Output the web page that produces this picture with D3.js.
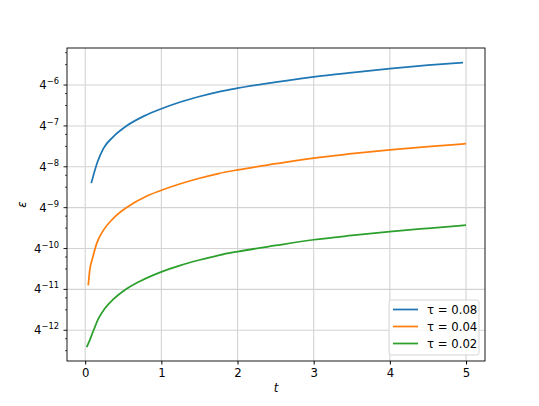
<!DOCTYPE html>
<html>
<head>
<meta charset="utf-8">
<script src="https://cdn.jsdelivr.net/npm/d3@7"></script>
<style>
  body { margin: 0; background: #fff; }
  svg { font-family: "DejaVu Sans", sans-serif; }
</style>
</head>
<body>
<div id="chart"></div>
<script>
var width = 539,
    height = 406;

var margin = {left: 67, top: 48, right: 54, bottom: 45};

// values, epsilon given as exponent of base 4
var tBlue   = [0.08, 0.16, 0.24, 0.37, 0.55, 0.77, 1.0, 1.25, 1.5, 1.75, 2.0, 2.5, 3.0, 3.5, 4.0, 4.5, 4.96];
var eBlue   = [-8.40, -7.89, -7.55, -7.26, -6.99, -6.76, -6.58, -6.415, -6.28, -6.165, -6.075, -5.93, -5.80, -5.695, -5.598, -5.515, -5.45];
var tOrange = [0.04, 0.06, 0.10, 0.15, 0.24, 0.37, 0.55, 0.81, 1.0, 1.25, 1.5, 1.75, 2.0, 2.5, 3.0, 3.5, 4.0, 4.5, 5.0];
var eOrange = [-10.90, -10.53, -10.21, -9.88, -9.55, -9.26, -8.99, -8.715, -8.575, -8.415, -8.28, -8.165, -8.075, -7.925, -7.785, -7.68, -7.585, -7.505, -7.434];
var tGreen  = [0.02, 0.06, 0.11, 0.175, 0.26, 0.37, 0.525, 0.72, 1.0, 1.25, 1.5, 1.75, 2.0, 2.5, 3.0, 3.5, 4.0, 4.5, 5.0];
var eGreen  = [-12.41, -12.24, -12.00, -11.71, -11.46, -11.24, -11.01, -10.80, -10.57, -10.41, -10.28, -10.165, -10.075, -9.925, -9.785, -9.68, -9.585, -9.505, -9.43];

var seriesNames  = ["τ = 0.08", "τ = 0.04", "τ = 0.02"];
var seriesColors = ["#1f77b4", "#ff7f0e", "#2ca02c"];
var xTicks = [0, 1, 2, 3, 4, 5];
var yTickExps = [-12, -11, -10, -9, -8, -7, -6];

var series = [
  {t: tBlue, e: eBlue},
  {t: tOrange, e: eOrange},
  {t: tGreen, e: eGreen}
];

var svg = d3.select("#chart").append("svg")
  .attr("width", width)
  .attr("height", height);

var x = d3.scaleLinear()
  .domain([-0.239, 5.249])
  .range([margin.left, width - margin.right]);

var y = d3.scaleLog().base(4)
  .domain([Math.pow(4, -12.752), Math.pow(4, -5.093)])
  .range([height - margin.bottom, margin.top]);

// grid
var grid = svg.append("g").attr("class", "grid");
grid.selectAll(".gx").data(xTicks).enter().append("line")
  .attr("x1", d => x(d)).attr("x2", d => x(d))
  .attr("y1", margin.top).attr("y2", height - margin.bottom)
  .attr("stroke", "#d3d3d3").attr("stroke-width", 1.1);
grid.selectAll(".gy").data(yTickExps).enter().append("line")
  .attr("x1", margin.left).attr("x2", width - margin.right)
  .attr("y1", d => y(Math.pow(4, d))).attr("y2", d => y(Math.pow(4, d)))
  .attr("stroke", "#d3d3d3").attr("stroke-width", 1.1);

// lines
var line = d3.line()
  .x(d => x(d[0]))
  .y(d => y(Math.pow(4, d[1])))
  .curve(d3.curveMonotoneX);

series.forEach(function(s, i) {
  svg.append("path")
    .datum(s.t.map((t, j) => [t, s.e[j]]))
    .attr("d", line)
    .attr("fill", "none")
    .attr("stroke", seriesColors[i])
    .attr("stroke-width", 1.75);
});

// axes
var xAxis = d3.axisBottom(x).tickValues(xTicks).tickSize(3.5).tickPadding(4).tickFormat(d3.format("d"));
var gx = svg.append("g")
  .attr("transform", "translate(0," + (height - margin.bottom) + ")")
  .call(xAxis);
gx.select(".domain").remove();
gx.selectAll("text").attr("font-size", 11.7).attr("fill", "#000").attr("font-family", "DejaVu Sans");

// y ticks: majors and minors (2,3 x 4^k)
var minorVals = [];
for (var k = -13; k <= -6; k++) {
  [2, 3].forEach(function(m) {
    var v = m * Math.pow(4, k);
    if (v > y.domain()[0] && v < y.domain()[1]) minorVals.push(v);
  });
}
var gy = svg.append("g").attr("transform", "translate(" + margin.left + ",0)");
gy.selectAll(".minor").data(minorVals).enter().append("line")
  .attr("x1", -2).attr("x2", 0)
  .attr("y1", d => y(d)).attr("y2", d => y(d))
  .attr("stroke", "#000").attr("stroke-width", 0.7);
gy.selectAll(".major").data(yTickExps).enter().append("line")
  .attr("x1", -3.5).attr("x2", 0)
  .attr("y1", d => y(Math.pow(4, d))).attr("y2", d => y(Math.pow(4, d)))
  .attr("stroke", "#000").attr("stroke-width", 0.9);
var lbl = gy.selectAll(".lbl").data(yTickExps).enter().append("text")
  .attr("x", -8)
  .attr("y", d => y(Math.pow(4, d)) + 4)
  .attr("text-anchor", "end")
  .attr("font-size", 11.7);
lbl.append("tspan").text("4");
lbl.append("tspan").attr("dy", -5).attr("font-size", 8.3).text(d => "\u2212" + Math.abs(d));

// frame
svg.append("rect")
  .attr("x", margin.left).attr("y", margin.top)
  .attr("width", width - margin.left - margin.right)
  .attr("height", height - margin.top - margin.bottom)
  .attr("fill", "none").attr("stroke", "#000").attr("stroke-width", 0.9);

// axis labels
svg.append("text")
  .attr("x", (margin.left + width - margin.right) / 2)
  .attr("y", 392)
  .attr("text-anchor", "middle")
  .attr("font-size", 11.7).attr("font-style", "italic")
  .text("t");
svg.append("text")
  .attr("transform", "translate(26," + ((margin.top + height - margin.bottom) / 2) + ")rotate(-90)")
  .attr("text-anchor", "middle")
  .attr("font-size", 11.7).attr("font-style", "italic")
  .text("ε");

// legend
var legend = svg.append("g").attr("transform", "translate(389,300)");
legend.append("rect")
  .attr("width", 90).attr("height", 55).attr("rx", 2.5)
  .attr("fill", "#fff").attr("fill-opacity", 0.8)
  .attr("stroke", "#d0d0d0").attr("stroke-width", 0.9);
seriesNames.forEach(function(n, i) {
  var yy = 9.5 + i * 17;
  legend.append("line")
    .attr("x1", 4).attr("x2", 29)
    .attr("y1", yy).attr("y2", yy)
    .attr("stroke", seriesColors[i]).attr("stroke-width", 1.75);
  legend.append("text")
    .attr("x", 38).attr("y", yy + 4.2)
    .attr("font-size", 11.7)
    .text(n);
});
</script>
</body>
</html>
